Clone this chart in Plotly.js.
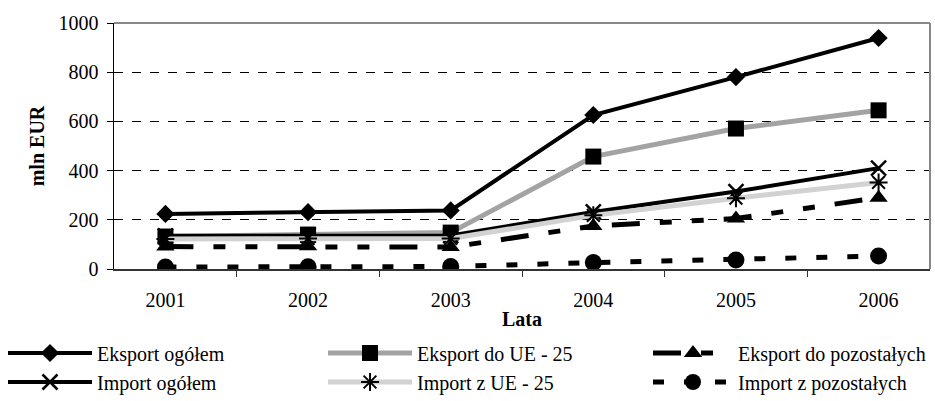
<!DOCTYPE html>
<html>
<head>
<meta charset="utf-8">
<script src="https://cdn.plot.ly/plotly-3.0.1.min.js"></script>
<style>html,body{margin:0;padding:0;background:#fff;}#chart{width:935px;height:401px;}</style>
</head>
<body>
<div id="chart"></div>
<script>
var years = ['2001', '2002', '2003', '2004', '2005', '2006'];
var eksportOgolem = [224, 231, 238, 626, 780, 939];
var eksportUE = [132, 140, 148, 457, 571, 645];
var eksportPozostalych = [91, 92, 89, 175, 205, 290];
var importOgolem = [135, 137, 136, 232, 315, 410];
var importUE = [122, 124, 124, 218, 288, 352];
var importPozostalych = [8, 9, 10, 26, 37, 53];
var seriesNames = ['Eksport ogółem', 'Eksport do UE - 25', 'Eksport do pozostałych',
                   'Import ogółem', 'Import z UE - 25', 'Import z pozostałych'];

var FONT = 'Liberation Serif';
var W = 935, H = 401;

var traces = [
  {x: years, y: eksportOgolem, name: seriesNames[0], legend: 'legend', mode: 'lines+markers',
   line: {color: '#000', width: 4}, marker: {symbol: 'diamond', size: 14, color: '#000'}},
  {x: years, y: eksportUE, name: seriesNames[1], legend: 'legend2', mode: 'lines+markers',
   line: {color: '#a3a3a3', width: 5}, marker: {symbol: 'square', size: 16, color: '#000'}},
  {x: years, y: eksportPozostalych, name: seriesNames[2], legend: 'legend3', mode: 'lines+markers',
   line: {color: '#000', width: 5, dash: '28px,20px,12px,20px,12px,20px'},
   marker: {symbol: 'triangle-up', size: 16, color: '#000'}},
  {x: years, y: importOgolem, name: seriesNames[3], legend: 'legend4', mode: 'lines+markers',
   line: {color: '#000', width: 4}, marker: {symbol: 'x-thin-open', size: 15, color: '#000', line: {width: 2.5, color: '#000'}}},
  {x: years, y: importUE, name: seriesNames[4], legend: 'legend5', mode: 'lines+markers',
   line: {color: '#d2d2d2', width: 5}, marker: {symbol: 'asterisk-open', size: 15, color: '#000', line: {width: 2, color: '#000'}}},
  {x: years, y: importPozostalych, name: seriesNames[5], legend: 'legend6', mode: 'lines+markers',
   line: {color: '#000', width: 5, dash: '11px,20px'}, marker: {symbol: 'circle', size: 17, color: '#000'}}
];

function leg(xpx, ypx, iw) {
  return {
    orientation: 'h', xanchor: 'left', yanchor: 'middle',
    xref: 'container', yref: 'container',
    x: xpx / W, y: 1 - ypx / H, itemwidth: iw,
    font: {family: FONT, size: 20, color: '#000'},
    bgcolor: 'rgba(0,0,0,0)'
  };
}

var layout = {
  width: W, height: H,
  margin: {l: 114, r: 5, t: 23, b: 132},
  paper_bgcolor: '#fff', plot_bgcolor: '#fff',
  font: {family: FONT, size: 20, color: '#000'},
  showlegend: true,
  legend: leg(3, 353, 84),
  legend2: leg(323, 353, 84),
  legend3: leg(648, 353, 80),
  legend4: leg(3, 382, 84),
  legend5: leg(323, 382, 84),
  legend6: leg(648, 382, 80),
  xaxis: {
    type: 'category', tickson: 'boundaries', ticks: 'outside', ticklen: 6, tickcolor: '#333',
    showline: true, linecolor: '#333', linewidth: 2, showgrid: false, zeroline: false,
    tickfont: {family: FONT, size: 20}, ticklabelstandoff: 12,
    title: {text: '<b>Lata</b>', font: {family: FONT, size: 20}, standoff: 2}
  },
  yaxis: {
    range: [0, 1000], dtick: 200, ticks: 'outside', ticklen: 6, tickcolor: '#000',
    showline: true, linecolor: '#000', linewidth: 1.5,
    showgrid: true, gridcolor: '#000', gridwidth: 1, griddash: 'dash', zeroline: false,
    tickfont: {family: FONT, size: 20}, ticklabelstandoff: 4,
    title: {text: '<b>mln EUR</b>', font: {family: FONT, size: 20}, standoff: 8}
  },
  shapes: [
    {type: 'line', xref: 'paper', yref: 'paper', x0: 0, x1: 1, y0: 1, y1: 1, line: {color: '#888', width: 2}},
    {type: 'line', xref: 'paper', yref: 'paper', x0: 1, x1: 1, y0: 0, y1: 1, line: {color: '#888', width: 2}}
  ]
};

Plotly.newPlot('chart', traces, layout, {displayModeBar: false, staticPlot: true});
</script>
</body>
</html>
